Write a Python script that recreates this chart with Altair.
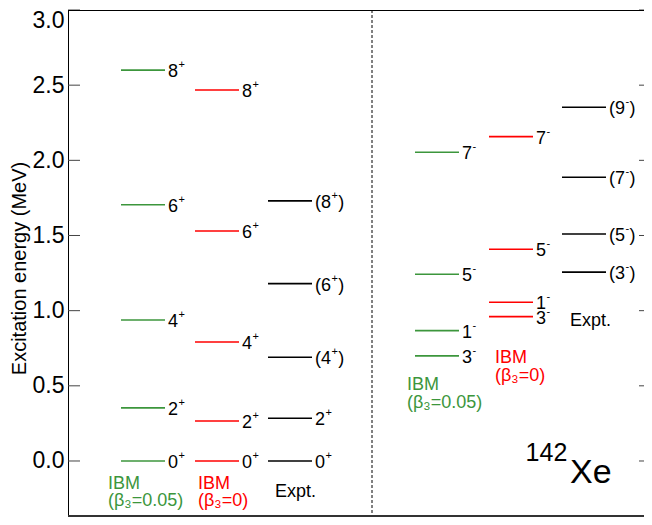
import altair as alt
import pandas as pd

FONT = "Liberation Sans, Arial, Helvetica, sans-serif"
GREEN = "#3c963c"
RED = "#ff0000"
BLACK = "#000000"

# column start positions (x units across plot) and level line length
col_start = [53, 127, 200, 347, 421, 494]
line_len = 44
col_color = [GREEN, RED, BLACK, GREEN, RED, BLACK]

# level energies (MeV) and spin-parity labels, per column
lg_E = [0.0, 0.353, 0.938, 1.705, 2.600]
lg_L = ["0+", "2+", "4+", "6+", "8+"]
lr_E = [0.0, 0.266, 0.792, 1.530, 2.468]
lr_L = ["0+", "2+", "4+", "6+", "8+"]
lx_E = [0.0, 0.284, 0.690, 1.180, 1.730]
lx_L = ["0+", "2+", "(4+)", "(6+)", "(8+)"]
rg_E = [0.699, 0.867, 1.242, 2.054]
rg_L = ["3-", "1-", "5-", "7-"]
rr_E = [0.960, 1.056, 1.408, 2.158]
rr_L = ["3-", "1-", "5-", "7-"]
rx_E = [1.256, 1.510, 1.887, 2.353]
rx_L = ["(3-)", "(5-)", "(7-)", "(9-)"]

cols_E = [lg_E, lr_E, lx_E, rg_E, rr_E, rx_E]
cols_L = [lg_L, lr_L, lx_L, rg_L, rr_L, rx_L]

# approximate glyph advances (px) for 18px / 11px Liberation Sans
def width18(s):
    return sum(6.0 if ch in "()" else 10.0 for ch in s)

SUP_ADV = {"+": 6.4, "-": 3.7}

rows = []
for i in range(6):
    for e, l in zip(cols_E[i], cols_L[i]):
        paren = l.startswith("(")
        core = l.strip("()")
        spin, sign = core[:-1], core[-1]
        base = ("(" if paren else "") + spin
        x2 = col_start[i] + line_len
        xb = x2 + 3
        xsup = xb + width18(base) + 0.5
        xc = xsup + SUP_ADV[sign] + 0.3
        rows.append({"x": col_start[i], "x2": x2, "y": e, "color": col_color[i],
                     "base": base, "sup": sign, "close": ")" if paren else "",
                     "xb": xb, "xs": xsup, "xc": xc})
levels = pd.DataFrame(rows)

# annotation texts
ann_text = ["IBM", "(β₃=0.05)", "IBM", "(β₃=0)", "Expt.",
            "IBM", "(β₃=0.05)", "IBM", "(β₃=0)", "Expt."]
ann_x = [40, 40, 130, 130, 207, 339, 339, 427, 427, 502]
ann_y = [-0.155, -0.265, -0.155, -0.265, -0.205,
         0.506, 0.389, 0.685, 0.563, 0.928]
ann_c = [GREEN, GREEN, RED, RED, BLACK, GREEN, GREEN, RED, RED, BLACK]
ann = pd.DataFrame({"x": ann_x, "y": ann_y, "t": ann_text, "color": ann_c})

tick_vals = [0.0, 0.5, 1.0, 1.5, 2.0, 2.5, 3.0]
ticks = pd.DataFrame({"y": tick_vals})

W, H = 576, 507
Y_MIN, Y_MAX = -0.3726, 3.0
xs = alt.Scale(domain=[0, W], nice=False, zero=False)
ys = alt.Scale(domain=[Y_MIN, Y_MAX], nice=False, zero=False)
yaxis = alt.Axis(values=tick_vals, format=".1f", ticks=False, tickSize=0,
                 labelFontSize=23, labelFont=FONT, labelColor="black",
                 labelPadding=4, labelFlush=True, labelFlushOffset=1,
                 domain=True, domainColor="black",
                 domainWidth=1, grid=False, title="Excitation energy (MeV)",
                 titleFont=FONT, titleFontSize=20, titleFontWeight="normal",
                 titleColor="black", titleX=-42.5, titleY=258,
                 titleAngle=270, titleBaseline="alphabetic", titleAlign="center")
Y = alt.Y("y:Q", scale=ys, axis=yaxis)

lines = alt.Chart(levels).mark_rule(strokeWidth=1.6).encode(
    x=alt.X("x:Q", scale=xs, axis=None), x2="x2:Q", y=Y,
    color=alt.Color("color:N", scale=None))

lab_base = alt.Chart(levels).mark_text(align="left", baseline="middle", dy=2,
                                       fontSize=18, font=FONT, color="black").encode(
    x=alt.X("xb:Q", scale=xs, axis=None), y=Y, text="base:N")
lab_sup = alt.Chart(levels).mark_text(align="left", baseline="middle", dy=-5,
                                      fontSize=11, font=FONT, color="black").encode(
    x=alt.X("xs:Q", scale=xs, axis=None), y=Y, text="sup:N")
lab_close = alt.Chart(levels).mark_text(align="left", baseline="middle", dy=2,
                                        fontSize=18, font=FONT, color="black").encode(
    x=alt.X("xc:Q", scale=xs, axis=None), y=Y, text="close:N")

annot = alt.Chart(ann).mark_text(align="left", baseline="middle",
                                 fontSize=18, font=FONT).encode(
    x=alt.X("x:Q", scale=xs, axis=None), y=Y, text="t:N",
    color=alt.Color("color:N", scale=None))

nuc_t = ["142", "Xe"]
nuc_x = [457.6, 502]
nuc_y = [0.0, -0.146]
nuc_s = [25, 34]
nuc = pd.DataFrame({"x": nuc_x, "y": nuc_y, "t": nuc_t, "s": nuc_s})
nucl = alt.Chart(nuc).mark_text(align="left", baseline="alphabetic",
                                font=FONT, color="black").encode(
    x=alt.X("x:Q", scale=xs, axis=None), y=Y, text="t:N",
    size=alt.Size("s:Q", scale=None, legend=None))

divider = alt.Chart(pd.DataFrame({"x": [304]})).mark_rule(
    strokeDash=[3, 2], color="black", strokeWidth=1).encode(
    x=alt.X("x:Q", scale=xs, axis=None), y=alt.value(0), y2=alt.value(H))

lt = alt.Chart(ticks).mark_rule(color="#444", strokeWidth=1).encode(
    y=Y, x=alt.value(0), x2=alt.value(12))
rt = alt.Chart(ticks).mark_rule(color="#444", strokeWidth=1).encode(
    y=Y, x=alt.value(W - 5), x2=alt.value(W))

top = alt.Chart(ticks).mark_rule(color="black", strokeWidth=1).encode(
    x=alt.value(0), x2=alt.value(W), y=alt.value(0.5))
bottom = alt.Chart(ticks).mark_rule(color="#333", strokeWidth=2).encode(
    x=alt.value(0), x2=alt.value(W), y=alt.value(H - 1))

chart = alt.layer(lines, lab_base, lab_sup, lab_close, annot, nucl, divider,
                  lt, rt, top, bottom).properties(
    width=W, height=H,
    padding={"left": 60, "top": 2, "right": 0, "bottom": 0},
    autosize=alt.AutoSizeParams(type="none"),
).configure_view(stroke=None)

chart.save("out.html", embed_options={"renderer": "svg", "actions": False})
